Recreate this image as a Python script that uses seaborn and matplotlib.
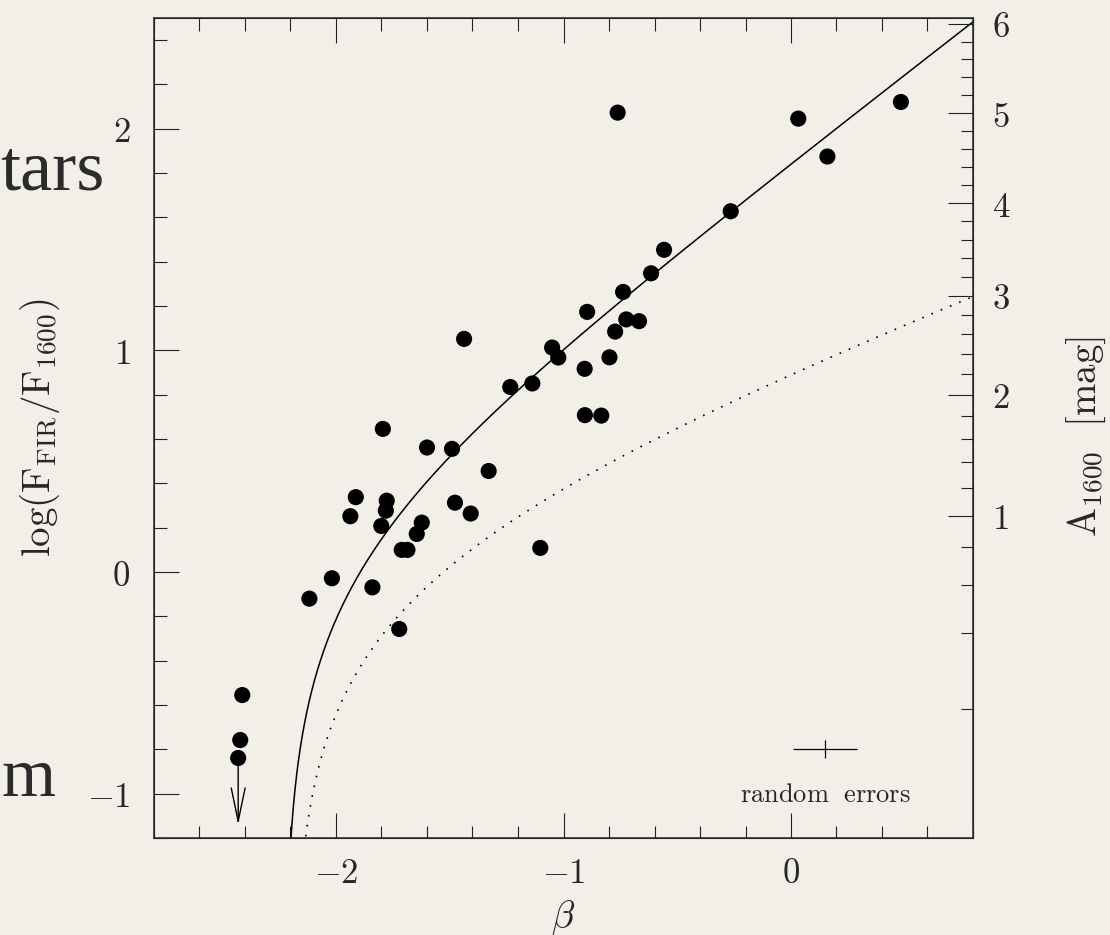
import numpy as np
import pandas as pd
import seaborn as sns
import matplotlib.pyplot as plt
from matplotlib.ticker import MultipleLocator

# UV slope beta and log(F_FIR/F_1600)
beta = [-0.762, 0.032, 0.483, 0.160, -0.265, -0.558, -0.615, -0.738, -0.896,
        -0.724, -0.668, -0.773, -1.050, -1.023, -1.437, -0.798, -0.907, -1.137,
        -1.234, -0.906, -0.834, -1.794, -1.600, -1.490, -1.329, -1.913, -1.777,
        -1.781, -1.937, -1.801, -1.477, -1.408, -1.623, -1.645, -1.711, -1.686,
        -1.102, -2.018, -1.840, -2.117, -1.722, -2.412, -2.421, -2.430]
log_ratio = [2.073, 2.046, 2.121, 1.875, 1.628, 1.454, 1.348, 1.264, 1.174,
             1.140, 1.132, 1.085, 1.013, 0.968, 1.052, 0.969, 0.917, 0.851,
             0.835, 0.708, 0.706, 0.646, 0.562, 0.556, 0.456, 0.338, 0.322,
             0.277, 0.252, 0.208, 0.313, 0.264, 0.223, 0.172, 0.100, 0.100,
             0.109, -0.028, -0.069, -0.120, -0.257, -0.555, -0.758, -0.839]

# upper limit (arrow)
limit_beta = [-2.43]
limit_from = [-0.84]
limit_to = [-1.14]

# typical error bar
err_beta = [0.15]
err_y = [-0.80]
err_dbeta = [0.14]
err_dy = [0.04]

# A1600 = a + b*beta for the solid and the dotted relation
a_fit, b_fit = 4.43, 1.99
a_dot, b_dot = 2.19, 1.00
bol_corr = 1.19

x_ticks = [-2, -1, 0]
y_ticks = [-1, 0, 1, 2]
a_ticks = [1, 2, 3, 4, 5, 6]
a_minor = [0.2, 0.4, 0.6, 0.8, 1.2, 1.4, 1.6, 1.8, 2.2, 2.4, 2.6, 2.8,
           3.2, 3.4, 3.6, 3.8, 4.2, 4.4, 4.6, 4.8, 5.2, 5.4, 5.6, 5.8]


def a_to_logratio(a):
    a = np.asarray(a, dtype=float)
    return np.log10(bol_corr * (10 ** (0.4 * a) - 1))


sns.set_style('ticks')
plt.rcParams['mathtext.fontset'] = 'cm'
plt.rcParams['font.family'] = ['DejaVu Serif']

bg = '#f2efe9'
fig = plt.figure(figsize=(11.1, 9.35), dpi=100, facecolor=bg)
ax = fig.add_axes([154 / 1110, 1 - 838 / 935, 819 / 1110, 820 / 935])
ax.set_facecolor(bg)

# model curves
grid_solid = np.linspace(-a_fit / b_fit + 1e-5, 0.8, 4000)
grid_dot = np.linspace(-a_dot / b_dot + 1e-5, 0.8, 4000)
solid = pd.DataFrame({'beta': grid_solid,
                      'y': a_to_logratio(a_fit + b_fit * grid_solid)})
dotted = pd.DataFrame({'beta': grid_dot,
                       'y': a_to_logratio(a_dot + b_dot * grid_dot)})
sns.lineplot(data=solid, x='beta', y='y', color='black', lw=1.1,
             sort=False, estimator=None, ax=ax)
sns.lineplot(data=dotted, x='beta', y='y', color='black', lw=1.2,
             linestyle=(0, (1, 5)), sort=False, estimator=None, ax=ax)

pts = pd.DataFrame({'beta': beta, 'log_ratio': log_ratio})
sns.scatterplot(data=pts, x='beta', y='log_ratio', s=135, color='black',
                edgecolor='none', ax=ax, zorder=3)

for b, y0, y1 in zip(limit_beta, limit_from, limit_to):
    ax.annotate('', xy=(b, y1), xytext=(b, y0),
                arrowprops=dict(arrowstyle='->,head_length=24,head_width=5',
                                mutation_scale=1, color='black', lw=1.0,
                                shrinkA=0, shrinkB=0))

ax.errorbar(err_beta, err_y, xerr=err_dbeta, yerr=err_dy, fmt='none',
            ecolor='black', elinewidth=0.9, capsize=0)
ax.text(err_beta[0], -1.036, r'$\mathrm{random\ \ errors}$', fontsize=19,
        ha='center', va='baseline')

ax.set_xlim(-2.8, 0.8)
ax.set_ylim(-1.2, 2.5)
ax.set_xticks(x_ticks, labels=[f'${t}$' for t in x_ticks])
ax.set_yticks(y_ticks, labels=[f'${t}$' for t in y_ticks])
ax.xaxis.set_minor_locator(MultipleLocator(0.2))
ax.yaxis.set_minor_locator(MultipleLocator(0.2))
ax.tick_params(which='both', direction='in', top=True, right=False,
               width=0.8, color='#222222')
ax.tick_params(which='major', length=18, labelsize=25)
ax.tick_params(axis='x', which='major', pad=13)
ax.tick_params(axis='y', which='major', pad=17)
ax.tick_params(which='minor', length=9)
for s in ax.spines.values():
    s.set_linewidth(1.1)

ax.set_xlabel(r'$\beta$', fontsize=27)
ax.xaxis.set_label_coords(0.5, -0.073)
ax.xaxis.label.set_va('top')
ax.set_ylabel(r'$\log(\mathrm{F_{FIR}/F_{1600}})$', fontsize=28)
ax.yaxis.set_label_coords(-0.112, 0.5)

# right axis in A1600
ax2 = ax.twinx()
ax2.set_ylim(ax.get_ylim())
ax2.set_yticks(a_to_logratio(a_ticks), labels=[f'${t}$' for t in a_ticks])
ax2.set_yticks(a_to_logratio(a_minor), minor=True)
ax2.tick_params(which='both', direction='in', width=0.8, color='#222222')
ax2.tick_params(which='major', length=18, labelsize=25, pad=14)
ax2.tick_params(which='minor', length=9)
ax2.set_ylabel(r'$\mathrm{A_{1600}\ \ [mag]}$', fontsize=28)
ax2.yaxis.set_label_coords(1.112, 0.49)

# leftover slide text at the left edge
fig.text(105 / 1110, 1 - 190 / 935, 'tars', ha='right', va='baseline',
         fontsize=52, family='Liberation Serif', color='#2b2b2b')
fig.text(0.001, 1 - 796 / 935, 'm', ha='left', va='baseline',
         fontsize=50, family='Liberation Serif', color='#2b2b2b')

fig.savefig('out.png', dpi=100, facecolor=bg)
